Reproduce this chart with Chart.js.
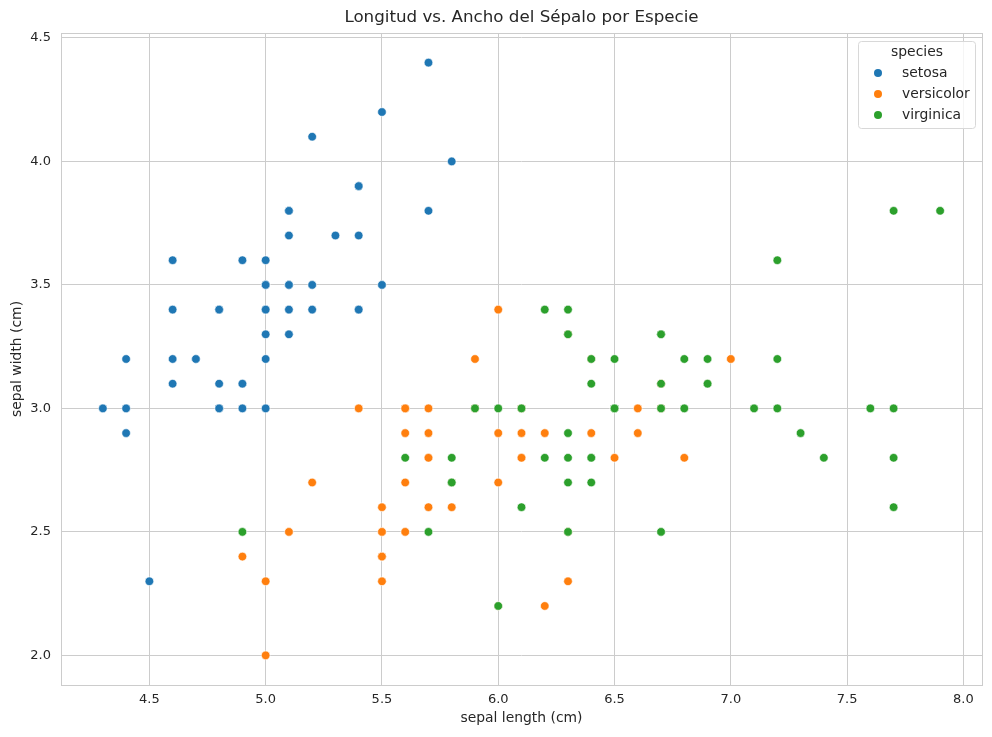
<!DOCTYPE html>
<html>
<head>
<meta charset="utf-8">
<script src="https://cdn.jsdelivr.net/npm/chart.js@4.4.1/dist/chart.umd.min.js"></script>
<style>
  html,body{margin:0;padding:0;background:#fff;}
  #wrap{width:992px;height:737px;}
</style>
</head>
<body>
<div id="wrap"><canvas id="c" width="992" height="737"></canvas></div>
<script>
// ====== DATA ======
const species = ['setosa', 'versicolor', 'virginica'];
const colors = ['#1f77b4', '#ff7f0e', '#2ca02c'];
const setosaLength = [5.1,4.9,4.7,4.6,5.0,5.4,4.6,5.0,4.4,4.9,5.4,4.8,4.8,4.3,5.8,5.7,5.4,5.1,5.7,5.1,5.4,5.1,4.6,5.1,4.8,5.0,5.0,5.2,5.2,4.7,4.8,5.4,5.2,5.5,4.9,5.0,5.5,4.9,4.4,5.1,5.0,4.5,4.4,5.0,5.1,4.8,5.1,4.6,5.3,5.0];
const setosaWidth  = [3.5,3.0,3.2,3.1,3.6,3.9,3.4,3.4,2.9,3.1,3.7,3.4,3.0,3.0,4.0,4.4,3.9,3.5,3.8,3.8,3.4,3.7,3.6,3.3,3.4,3.0,3.4,3.5,3.4,3.2,3.1,3.4,4.1,4.2,3.1,3.2,3.5,3.6,3.0,3.4,3.5,2.3,3.2,3.5,3.8,3.0,3.8,3.2,3.7,3.3];
const versicolorLength = [7.0,6.4,6.9,5.5,6.5,5.7,6.3,4.9,6.6,5.2,5.0,5.9,6.0,6.1,5.6,6.7,5.6,5.8,6.2,5.6,5.9,6.1,6.3,6.1,6.4,6.6,6.8,6.7,6.0,5.7,5.5,5.5,5.8,6.0,5.4,6.0,6.7,6.3,5.6,5.5,5.5,6.1,5.8,5.0,5.6,5.7,5.7,6.2,5.1,5.7];
const versicolorWidth  = [3.2,3.2,3.1,2.3,2.8,2.8,3.3,2.4,2.9,2.7,2.0,3.0,2.2,2.9,2.9,3.1,3.0,2.7,2.2,2.5,3.2,2.8,2.5,2.8,2.9,3.0,2.8,3.0,2.9,2.6,2.4,2.4,2.7,2.7,3.0,3.4,3.1,2.3,3.0,2.5,2.6,3.0,2.6,2.3,2.7,3.0,2.9,2.9,2.5,2.8];
const virginicaLength = [6.3,5.8,7.1,6.3,6.5,7.6,4.9,7.3,6.7,7.2,6.5,6.4,6.8,5.7,5.8,6.4,6.5,7.7,7.7,6.0,6.9,5.6,7.7,6.3,6.7,7.2,6.2,6.1,6.4,7.2,7.4,7.9,6.4,6.3,6.1,7.7,6.3,6.4,6.0,6.9,6.7,6.9,5.8,6.8,6.7,6.7,6.3,6.5,6.2,5.9];
const virginicaWidth  = [3.3,2.7,3.0,2.9,3.0,3.0,2.5,2.9,2.5,3.6,3.2,2.7,3.0,2.5,2.8,3.2,3.0,3.8,2.6,2.2,3.2,2.8,2.8,2.7,3.3,3.2,2.8,3.0,2.8,3.0,2.8,3.8,2.8,2.8,2.6,3.0,3.4,3.1,3.0,3.1,3.1,3.1,2.7,3.2,3.3,3.0,2.5,3.0,3.4,3.0];
const xTicks = [4.5,5.0,5.5,6.0,6.5,7.0,7.5,8.0];
const yTicks = [2.0,2.5,3.0,3.5,4.0,4.5];

const TXT = '#262626', GRID = '#cccccc', FONT = "'DejaVu Sans', sans-serif";
const pts = (xs, ys) => xs.map((x, i) => ({ x, y: ys[i] }));
const series = [pts(setosaLength, setosaWidth), pts(versicolorLength, versicolorWidth), pts(virginicaLength, virginicaWidth)];

// ====== PLUGINS ======
const frame = {
  id: 'frame',
  afterDraw(chart){
    const { ctx, chartArea: a } = chart;
    ctx.save();
    ctx.strokeStyle = GRID; ctx.lineWidth = 1;
    ctx.strokeRect(Math.round(a.left) + 0.5, Math.round(a.top) + 0.5, Math.round(a.right - a.left), Math.round(a.bottom - a.top));
    // title
    ctx.fillStyle = TXT; ctx.font = `16.7px ${FONT}`; ctx.textAlign = 'center'; ctx.textBaseline = 'middle';
    ctx.fillText('Longitud vs. Ancho del Sépalo por Especie', (a.left + a.right) / 2, 18);
    // legend
    const w = 117, h = 87, x0 = a.right - 7 - w, y0 = a.top + 8;
    ctx.beginPath(); ctx.roundRect(x0 + 0.5, y0 + 0.5, w, h, 3);
    ctx.fillStyle = 'rgba(255,255,255,0.8)'; ctx.fill();
    ctx.strokeStyle = '#d8d8d8'; ctx.stroke();
    ctx.fillStyle = TXT; ctx.font = `13.9px ${FONT}`;
    ctx.fillText('species', x0 + w / 2 + 0.5, y0 + 11);
    ctx.textAlign = 'left';
    species.forEach((s, i) => {
      const yy = y0 + 32 + i * 21;
      ctx.beginPath(); ctx.arc(x0 + 20, yy, 4, 0, Math.PI * 2);
      ctx.fillStyle = colors[i]; ctx.fill();
      ctx.fillStyle = TXT; ctx.fillText(s, x0 + 44, yy);
    });
    ctx.restore();
  }
};

// ====== CHART ======
new Chart(document.getElementById('c'), {
  type: 'scatter',
  data: {
    datasets: series.map((d, i) => ({
      label: species[i], data: d, order: 3 - i,
      backgroundColor: colors[i], borderColor: '#ffffff', borderWidth: 0.6,
      pointRadius: 4.3, pointHoverRadius: 4.3
    }))
  },
  options: {
    responsive: false, animation: false, devicePixelRatio: 1,
    layout: { padding: { top: 33, right: 10, left: 0, bottom: 0 } },
    plugins: { legend: { display: false }, tooltip: { enabled: false } },
    scales: {
      x: {
        type: 'linear', min: 4.12, max: 8.08,
        afterBuildTicks: s => { s.ticks = xTicks.map(v => ({ value: v })); },
        afterFit: s => { s.height = 52; },
        grid: { color: GRID, drawTicks: false }, border: { display: false },
        ticks: { color: TXT, font: { family: FONT, size: 13 }, padding: 7, callback: v => v.toFixed(1) },
        title: { display: true, text: 'sepal length (cm)', color: TXT, font: { family: FONT, size: 13.9 }, padding: { top: 0, bottom: 10 } }
      },
      y: {
        type: 'linear', min: 1.88, max: 4.52,
        afterBuildTicks: s => { s.ticks = yTicks.map(v => ({ value: v })); },
        afterFit: s => { s.width = 61; },
        grid: { color: GRID, drawTicks: false }, border: { display: false },
        ticks: { color: TXT, font: { family: FONT, size: 13 }, padding: 10, callback: v => v.toFixed(1) },
        title: { display: true, text: 'sepal width (cm)', color: TXT, font: { family: FONT, size: 13.9 }, padding: { top: 9, bottom: 0 } }
      }
    }
  },
  plugins: [frame]
});
</script>
</body>
</html>
